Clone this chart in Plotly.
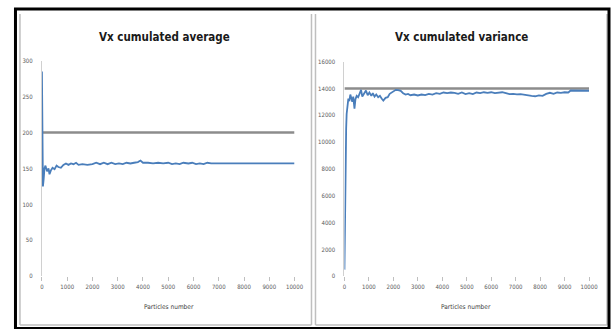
import plotly.graph_objects as go

# Cumulated average of Vx versus number of particles
avg_x = [0, 8, 20, 40, 70, 100, 140, 200, 260, 300, 350, 420, 500, 580, 650, 750,
         850, 950, 1050, 1150, 1250, 1350, 1450, 1600, 1800, 2000, 2150, 2300, 2450,
         2600, 2750, 2900, 3050, 3200, 3350, 3500, 3650, 3800, 3900, 4000, 4200,
         4400, 4600, 4800, 5000, 5150, 5300, 5450, 5600, 5800, 5950, 6100, 6250,
         6400, 6550, 6700, 7000, 8000, 9000, 10000]
avg_y = [285, 190, 135, 125, 136, 150, 154, 146, 150, 142, 147, 151, 149, 154, 152, 151,
         155, 157, 155, 157, 156, 158, 155, 156, 155, 156, 158, 156, 158, 156, 158,
         156, 157, 156, 158, 157, 158, 159, 161, 158, 158, 157, 158, 157, 158, 156,
         157, 156, 158, 157, 158, 156, 157, 156, 158, 157, 157, 157, 157, 157]

# Cumulated variance of Vx versus number of particles
var_x = [0, 15, 30, 50, 70, 90, 120, 160, 200, 240, 280, 320, 360, 410, 450, 500,
         560, 620, 680, 730, 800, 880, 950, 1020, 1100, 1160, 1230, 1300, 1380,
         1450, 1520, 1590, 1680, 1770, 1850, 1920, 2000, 2100, 2200, 2300, 2400,
         2500, 2600, 2700, 2850, 3000, 3150, 3300, 3450, 3600, 3750, 3900, 4050,
         4200, 4350, 4500, 4650, 4800, 4950, 5100, 5250, 5400, 5550, 5700, 5850,
         6000, 6150, 6300, 6450, 6600, 6750, 6900, 7050, 7200, 7350, 7500, 7650,
         7800, 7950, 8100, 8250, 8400, 8550, 8700, 8850, 9000, 9150, 9250, 9400,
         9600, 9800, 10000]
var_y = [500, 4500, 7200, 9400, 11000, 12100, 12900, 13250, 13050, 13550, 13300,
         13000, 13400, 12500, 13200, 13450, 13350, 13700, 13900, 13400, 13650, 13850,
         13500, 13700, 13450, 13650, 13400, 13550, 13350, 13450, 13250, 13100, 13300,
         13350, 13600, 13700, 13750, 13900, 13880, 13820, 13650, 13550, 13600, 13500,
         13550, 13480, 13550, 13500, 13600, 13550, 13650, 13600, 13700, 13650, 13700,
         13680, 13600, 13700, 13580, 13650, 13580, 13700, 13650, 13720, 13680, 13720,
         13650, 13700, 13720, 13650, 13580, 13600, 13560, 13580, 13520, 13500, 13450,
         13420, 13480, 13450, 13600, 13680, 13600, 13700, 13680, 13720, 13700, 13850,
         13850, 13830, 13850, 13830]

# Theoretical values drawn as horizontal references
ref_x = [0, 10000]
ref_avg = [200, 200]
ref_var = [14000, 14000]

x_ticks = [0, 1000, 2000, 3000, 4000, 5000, 6000, 7000, 8000, 9000, 10000]
avg_ticks = [0, 50, 100, 150, 200, 250, 300]
var_ticks = [0, 2000, 4000, 6000, 8000, 10000, 12000, 14000, 16000]

# Layout positions are given on a 614 x 329 grid
W, H = 614, 329
BLUE = "#4A7EBB"
GREY = "#8C8C8C"
FONT = "DejaVu Sans Condensed, Liberation Sans, sans-serif"


def px(x):
    return x / W


def py(y):
    return 1 - y / H


fig = go.Figure()
fig.add_trace(go.Scatter(x=ref_x, y=ref_avg, mode="lines",
                         line=dict(color=GREY, width=2.5), xaxis="x", yaxis="y"))
fig.add_trace(go.Scatter(x=avg_x, y=avg_y, mode="lines",
                         line=dict(color=BLUE, width=1.8), xaxis="x", yaxis="y"))
fig.add_trace(go.Scatter(x=ref_x, y=ref_var, mode="lines",
                         line=dict(color=GREY, width=2.5), xaxis="x2", yaxis="y2"))
fig.add_trace(go.Scatter(x=var_x, y=var_y, mode="lines",
                         line=dict(color=BLUE, width=1.8), xaxis="x2", yaxis="y2"))

tickfont = dict(family=FONT, size=6, color="#595959")
xcommon = dict(range=[0, 10000], tickvals=x_ticks, tickformat="d", showgrid=False,
               zeroline=False, showline=False, ticks="outside", ticklen=4,
               tickcolor="#BFBFBF", tickfont=tickfont, fixedrange=True)
ycommon = dict(showgrid=False, zeroline=False, showline=True, linecolor="#D0D0D0",
               linewidth=1, ticks="", tickformat="d", tickfont=tickfont,
               ticklabelstandoff=7, fixedrange=True)

fig.update_layout(
    width=624, height=334, margin=dict(l=0, r=0, t=0, b=0),
    paper_bgcolor="white", plot_bgcolor="white", showlegend=False,
    xaxis=dict(domain=[px(40), px(293)], anchor="y", **xcommon),
    yaxis=dict(domain=[py(274), py(57)], anchor="x", range=[0, 300],
               tickvals=avg_ticks, **ycommon),
    xaxis2=dict(domain=[px(343), px(588)], anchor="y2", **xcommon),
    yaxis2=dict(domain=[py(274), py(58)], anchor="x2", range=[0, 16000],
                tickvals=var_ticks, **ycommon),
)

titlefont = dict(family=FONT, size=11.5, color="#1A1A1A")
axfont = dict(family=FONT, size=6.5, color="#404040")
for cx, cy, txt, f in [(163, 33, "<b>Vx cumulated average</b>", titlefont),
                       (460, 33, "<b>Vx cumulated variance</b>", titlefont),
                       (167, 305, "Particles number", axfont),
                       (465, 305, "Particles number", axfont)]:
    fig.add_annotation(x=px(cx), y=py(cy), xref="paper", yref="paper",
                       xanchor="center", yanchor="middle", text=txt,
                       showarrow=False, font=f)

# Chart frames: light panel borders inside a black outer box
panel = dict(color="#BFBFBF", width=1.5)
for x0, x1 in [(18, 310), (314, 606)]:
    fig.add_shape(type="line", xref="paper", yref="paper",
                  x0=px(x0), x1=px(x0), y0=py(10), y1=py(323), line=panel)
    fig.add_shape(type="line", xref="paper", yref="paper",
                  x0=px(x1), x1=px(x1), y0=py(10), y1=py(323), line=panel)
    fig.add_shape(type="line", xref="paper", yref="paper",
                  x0=px(x0), x1=px(x1), y0=py(323), y1=py(323), line=panel)
fig.add_shape(type="rect", xref="paper", yref="paper",
              x0=px(13.5), x1=px(608), y0=py(5), y1=py(326.5),
              line=dict(color="black", width=3))

fig.write_html("out.html")
